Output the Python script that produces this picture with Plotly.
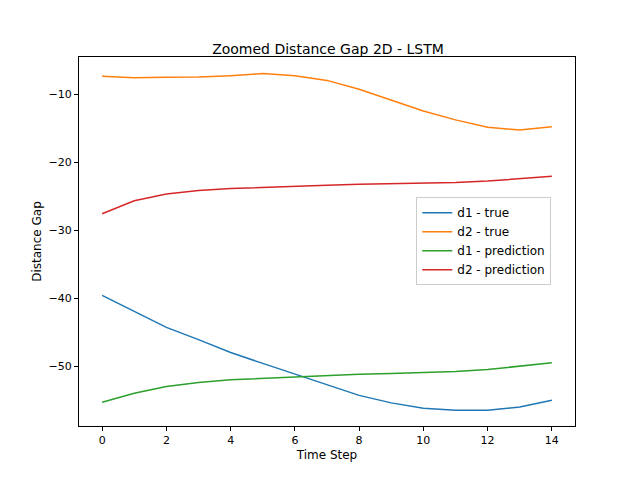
import plotly.graph_objects as go

steps = list(range(15))
d1_true = [-39.6, -41.9, -44.3, -46.1, -48.0, -49.6, -51.2, -52.8, -54.3, -55.4, -56.2, -56.5, -56.5, -56.0, -55.0]
d2_true = [-7.4, -7.6, -7.55, -7.5, -7.3, -7.0, -7.3, -8.0, -9.3, -10.9, -12.5, -13.8, -14.9, -15.3, -14.8]
d1_pred = [-55.3, -54.0, -53.0, -52.4, -52.0, -51.8, -51.6, -51.3, -51.2, -51.1, -51.0, -50.8, -50.5, -50.0, -49.5]
d2_pred = [-27.6, -25.7, -24.7, -24.2, -23.9, -23.7, -23.55, -23.4, -23.25, -23.2, -23.15, -23.0, -22.8, -22.5, -22.1]

series = [
    ("d1 - true", d1_true, "#1f77b4"),
    ("d2 - true", d2_true, "#ff7f0e"),
    ("d1 - prediction", d1_pred, "#2ca02c"),
    ("d2 - prediction", d2_pred, "#d62728"),
]

fig = go.Figure()
for name, vals, color in series:
    fig.add_trace(go.Scatter(x=steps, y=vals, mode="lines", name=name, line={"color": color, "width": 1.5}))

axis = dict(showgrid=False, zeroline=False, showline=True, mirror=True, linecolor="black",
            ticks="outside", tickcolor="black", ticklen=4, tickfont={"size": 11, "color": "black"})
fig.update_layout(
    width=640, height=480,
    font={"family": "DejaVu Sans", "color": "black"},
    title={"text": "Zoomed Distance Gap 2D - LSTM", "x": 0.5, "y": 0.925, "xanchor": "center", "font": {"size": 14}},
    xaxis={**axis, "range": [-0.72, 14.72], "tickvals": [0, 2, 4, 6, 8, 10, 12, 14],
           "title": {"text": "Time Step", "font": {"size": 12}, "standoff": 4}},
    yaxis={**axis, "range": [-58.8, -4.56], "tickvals": [-50, -40, -30, -20, -10],
           "ticktext": ["−50", "−40", "−30", "−20", "−10"],
           "title": {"text": "Distance Gap", "font": {"size": 12}, "standoff": 4}},
    plot_bgcolor="white", paper_bgcolor="white",
    margin={"l": 71, "r": 73, "t": 49, "b": 62},
    legend={"x": 0.68, "y": 0.62, "xanchor": "left", "yanchor": "top", "bgcolor": "white",
            "bordercolor": "#cccccc", "borderwidth": 1, "font": {"size": 12}},
)
fig.write_html("out.html")
